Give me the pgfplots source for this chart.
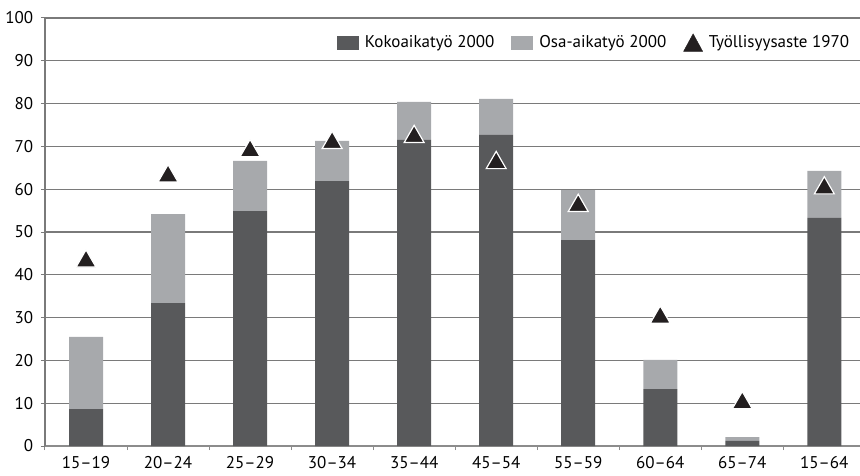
\documentclass[border=0pt]{standalone}
\usepackage{pgfplots}
\pgfplotsset{compat=1.18}
\usepackage{fontspec}
\setmainfont{PT Sans}

\definecolor{fullbar}{HTML}{58595B}
\definecolor{partbar}{HTML}{A7A9AC}
\definecolor{tri}{HTML}{231F20}
\definecolor{gridc}{HTML}{7A7A7A}
\definecolor{axisc}{HTML}{8C8C8C}

% Full-time and part-time employment rates by age group, 2000 (%)
\pgfplotstableread{
x full part
0 8.6  16.9
1 33.4 20.8
2 54.9 11.7
3 61.9 9.4
4 71.5 8.9
5 72.7 8.4
6 48.1 11.7
7 13.3 6.8
8 1.2  0.9
9 53.3 11.0
}\bars
% Employment rate 1970 (%)
\pgfplotstableread{
x rate
0 43.8
1 63.7
2 69.6
3 71.5
4 72.9
5 66.8
6 56.8
7 30.7
8 10.7
9 60.9
}\rate

\begin{document}
\fontsize{17}{20}\selectfont
\begin{tikzpicture}
\pgfplotsset{
  base/.style={
    at={(45pt,29pt)}, anchor=south west,
    scale only axis, width=815pt, height=428pt,
    xmin=-0.5, xmax=9.435, ymin=0, ymax=100,
  },
}
\begin{axis}[base,
  axis x line*=bottom, axis y line*=left,
  x axis line style={draw=axisc, line width=1.8pt},
  y axis line style={draw=gridc, line width=1.2pt},
  ymajorgrids, grid style={draw=gridc, line width=1.2pt},
  ytick={0,10,...,100},
  ytick style={draw=gridc, line width=1pt},
  tick align=outside, major tick length=4pt,
  xtick={-0.5,0.5,...,8.5}, xticklabels={},
  xtick style={draw=axisc, line width=1pt},
  extra x ticks={0,...,9},
  extra x tick labels={15--19,20--24,25--29,30--34,35--44,45--54,55--59,60--64,65--74,15--64},
  extra x tick style={major tick length=0pt, grid=none},
  xticklabel style={yshift=-5pt},
  yticklabel style={xshift=-2pt},
  ticklabel style={font=\fontsize{17}{20}\selectfont},
  /pgf/number format/assume math mode=true,
  ybar stacked, bar width=34pt,
  legend columns=3,
  legend cell align=left,
  legend style={draw=none, fill=none, at={(axis description cs:0.993,0.942)}, anchor=east,
    font=\fontsize{17}{20}\selectfont,
    /tikz/every odd column/.append style={column sep=4pt},
    /tikz/every even column/.append style={column sep=15pt}},
]
\addplot[fill=fullbar, draw=none,
  legend image code/.code={\fill[fullbar] (0pt,-7pt) rectangle (22pt,7pt);}]
  table[x=x, y=full] {\bars};
\addlegendentry{Kokoaikatyö 2000}
\addplot[fill=partbar, draw=none,
  legend image code/.code={\fill[partbar] (0pt,-7pt) rectangle (22pt,7pt);}]
  table[x=x, y=part] {\bars};
\addlegendentry{Osa-aikatyö 2000}
\addlegendimage{legend image code/.code={\fill[tri] (0pt,-8.5pt) -- (19pt,-8.5pt) -- (9.5pt,9pt) -- cycle;}}
\addlegendentry{Työllisyysaste 1970}
\end{axis}

\begin{axis}[base, hide axis, clip=false]
\addplot[only marks, mark=triangle*, mark size=11.5pt,
  mark options={fill=tri, draw=white, line width=1.2pt, yshift=-2.8pt}]
  table[x=x, y=rate] {\rate};
\end{axis}

\pgfresetboundingbox
\path (0,0) rectangle (860pt,475pt);
\end{tikzpicture}
\end{document}
